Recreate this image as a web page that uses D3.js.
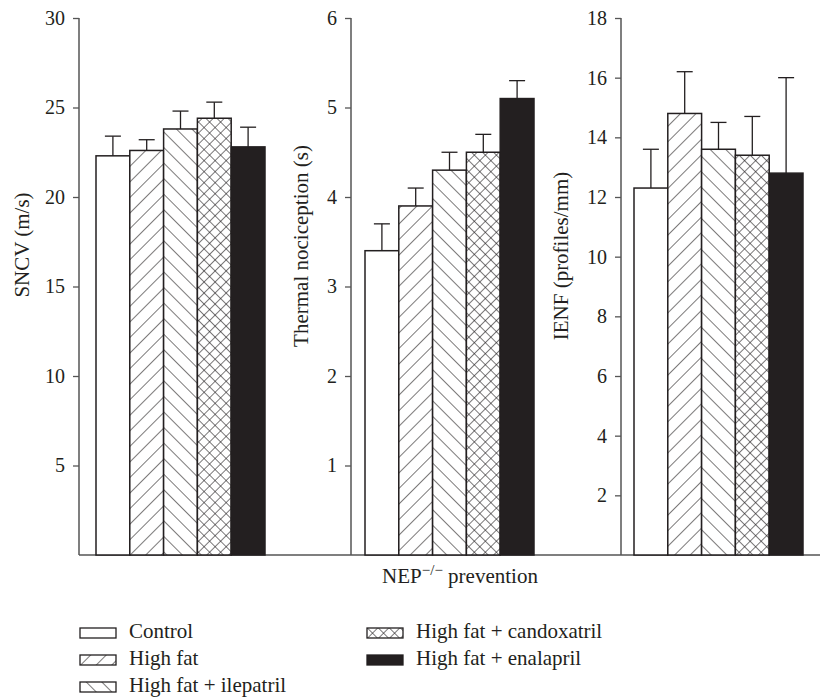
<!DOCTYPE html>
<html>
<head>
<meta charset="utf-8">
<script src="https://cdn.jsdelivr.net/npm/d3@7/dist/d3.min.js"></script>
<style>
  body { margin: 0; background: #fff; }
  text { font-family: "Liberation Serif", "DejaVu Serif", serif; fill: #231f20; }
</style>
</head>
<body>
<div id="chart-area"></div>
<script>
// groups and values (mean, error)
var groups = ["Control", "High fat", "High fat + ilepatril", "High fat + candoxatril", "High fat + enalapril"];
var sncv = [22.3, 22.6, 23.8, 24.4, 22.8];
var sncvErr = [1.1, 0.6, 1.0, 0.9, 1.1];
var thermal = [3.4, 3.9, 4.3, 4.5, 5.1];
var thermalErr = [0.3, 0.2, 0.2, 0.2, 0.2];
var ienf = [12.3, 14.8, 13.6, 13.4, 12.8];
var ienfErr = [1.3, 1.4, 0.9, 1.3, 3.2];
var sncvTicks = [5, 10, 15, 20, 25, 30];
var thermalTicks = [1, 2, 3, 4, 5, 6];
var ienfTicks = [2, 4, 6, 8, 10, 12, 14, 16, 18];

var W = 820, H = 698;
var yTop = 18, yBase = 555;
var ink = "#231f20";

var svg = d3.select("#chart-area").append("svg")
  .attr("width", W).attr("height", H);

// hatch patterns
var defs = svg.append("defs");
function hatch(id, angle, gap) {
  var p = defs.append("pattern")
    .attr("id", id)
    .attr("patternUnits", "userSpaceOnUse")
    .attr("width", gap).attr("height", gap)
    .attr("patternTransform", "rotate(" + angle + ")");
  p.append("rect").attr("width", gap).attr("height", gap).attr("fill", "#fff");
  p.append("line").attr("x1", 0).attr("y1", 0).attr("x2", 0).attr("y2", gap)
    .attr("stroke", ink).attr("stroke-width", 1.2);
}
hatch("fwd", 45, 11);
hatch("back", -45, 11);
var cp = defs.append("pattern")
  .attr("id", "cross")
  .attr("patternUnits", "userSpaceOnUse")
  .attr("width", 7.8).attr("height", 7.8)
  .attr("patternTransform", "rotate(45)");
cp.append("rect").attr("width", 7.8).attr("height", 7.8).attr("fill", "#fff");
cp.append("line").attr("x1", 0).attr("y1", 0).attr("x2", 0).attr("y2", 7.8)
  .attr("stroke", ink).attr("stroke-width", 1.2);
cp.append("line").attr("x1", 0).attr("y1", 0).attr("x2", 7.8).attr("y2", 0)
  .attr("stroke", ink).attr("stroke-width", 1.2);

var fills = ["#fff", "url(#fwd)", "url(#back)", "url(#cross)", ink];

var panels = [
  {values: sncv, err: sncvErr, ticks: sncvTicks, max: 30, axisX: 79, barX: 96, label: "SNCV (m/s)", labelX: 29, labelY: 245},
  {values: thermal, err: thermalErr, ticks: thermalTicks, max: 6, axisX: 351, barX: 365, label: "Thermal nociception (s)", labelX: 308, labelY: 246},
  {values: ienf, err: ienfErr, ticks: ienfTicks, max: 18, axisX: 621, barX: 634, label: "IENF (profiles/mm)", labelX: 568, labelY: 256}
];

// shared baseline
svg.append("line")
  .attr("x1", 79).attr("x2", W).attr("y1", yBase).attr("y2", yBase)
  .attr("stroke", "#555").attr("stroke-width", 1.5);

panels.forEach(function(p) {
  var y = d3.scaleLinear().domain([0, p.max]).range([yBase, yTop]);
  var x = d3.scaleBand().domain(groups).range([p.barX, p.barX + 169]).padding(0);

  var g = svg.append("g");

  // Y axis
  var axis = g.append("g")
    .attr("transform", "translate(" + p.axisX + ",0)")
    .call(d3.axisLeft(y).tickValues(p.ticks).tickFormat(d3.format("d"))
      .tickSize(6).tickPadding(8).tickSizeOuter(0));
  axis.select(".domain").attr("stroke", "#555").attr("stroke-width", 1.5)
    .attr("d", "M0," + yBase + "V" + yTop);
  axis.selectAll(".tick line").attr("stroke", "#555").attr("stroke-width", 1.3);
  axis.selectAll(".tick text")
    .attr("font-size", "20px")
    .attr("font-family", "Liberation Serif, serif")
    .attr("fill", ink);

  // bars
  g.selectAll("rect.bar")
    .data(groups)
    .enter().append("rect")
      .attr("class", "bar")
      .attr("x", function(d) { return x(d); })
      .attr("width", x.bandwidth())
      .attr("y", function(d, i) { return y(p.values[i]); })
      .attr("height", function(d, i) { return yBase - y(p.values[i]); })
      .attr("fill", function(d, i) { return fills[i]; })
      .attr("stroke", ink)
      .attr("stroke-width", 1.5);

  // error bars
  groups.forEach(function(d, i) {
    var cx = x(d) + x.bandwidth() / 2;
    var y0 = y(p.values[i]), y1 = y(p.values[i] + p.err[i]);
    g.append("line").attr("x1", cx).attr("x2", cx).attr("y1", y0).attr("y2", y1)
      .attr("stroke", ink).attr("stroke-width", 1.3);
    g.append("line").attr("x1", cx - 8).attr("x2", cx + 8).attr("y1", y1).attr("y2", y1)
      .attr("stroke", ink).attr("stroke-width", 1.3);
  });

  // Y label
  g.append("text")
    .attr("transform", "translate(" + p.labelX + "," + p.labelY + ") rotate(-90)")
    .attr("text-anchor", "middle")
    .attr("font-size", "21px")
    .text(p.label);
});

// X label
var xl = svg.append("text")
  .attr("x", 460).attr("y", 583)
  .attr("text-anchor", "middle")
  .attr("font-size", "21px");
xl.append("tspan").text("NEP");
xl.append("tspan").attr("dy", -8).attr("font-size", "15px").text("\u2212/\u2212");
xl.append("tspan").attr("dy", 8).text(" prevention");

// legend
var legendPos = [
  {x: 80, y: 638}, {x: 80, y: 665}, {x: 80, y: 692},
  {x: 367, y: 638}, {x: 367, y: 665}
];
groups.forEach(function(d, i) {
  var row = svg.append("g")
    .attr("transform", "translate(" + legendPos[i].x + "," + legendPos[i].y + ")");
  row.append("rect")
    .attr("x", 0).attr("y", -10)
    .attr("width", 36).attr("height", 10)
    .attr("fill", fills[i])
    .attr("stroke", ink).attr("stroke-width", 1.3);
  row.append("text")
    .attr("x", 49).attr("y", 0)
    .attr("font-size", "21px")
    .text(d);
});
</script>
</body>
</html>
